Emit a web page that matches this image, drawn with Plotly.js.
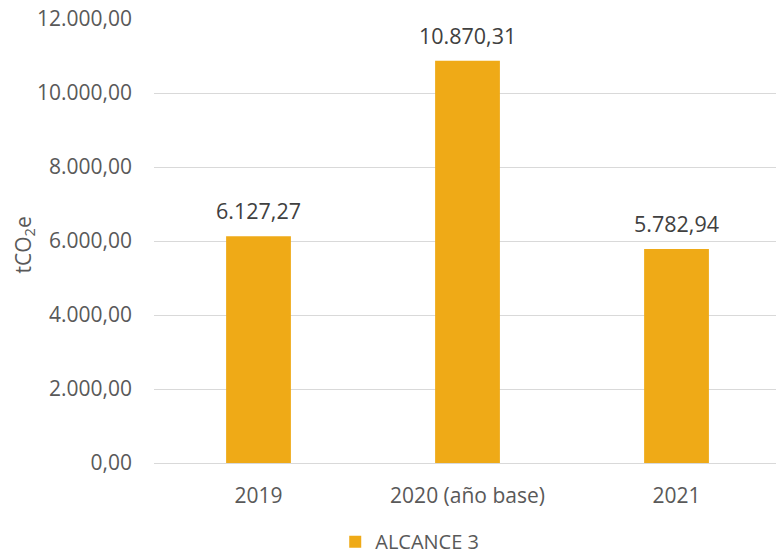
<!DOCTYPE html>
<html><head><meta charset="utf-8">
<script src="https://cdn.plot.ly/plotly-3.0.1.min.js"></script>
<style>html,body{margin:0;padding:0;background:#fff}</style>
</head><body>
<div id="chart" style="width:776px;height:555px"></div>
<script>
var categories = ["2019", "2020 (año base)", "2021"];
var values = [6127.27, 10870.31, 5782.94];
var seriesName = "ALCANCE 3";
var yTicks = [0, 2000, 4000, 6000, 8000, 10000, 12000];
var yTitle = "tCO<sub>2</sub>e";

var fontFam = "Open Sans, Liberation Sans, sans-serif";
var txtColor = "#595959";

var trace = {
  type: "bar",
  x: categories,
  y: values,
  name: seriesName,
  width: 0.31,
  marker: {color: "#EFAA17"},
  showlegend: true,
  hoverinfo: "none"
};

var fmt = function(v){
  var parts = v.toFixed(2).split(".");
  parts[0] = parts[0].replace(/\B(?=(\d{3})+(?!\d))/g, ".");
  return parts.join(",");
};
var annotations = categories.map(function(c, i){
  return {
    x: i, y: values[i], xref: "x", yref: "y",
    text: fmt(values[i]), showarrow: false,
    yanchor: "bottom", yshift: 9,
    font: {family: fontFam, size: 21.5, color: "#404040"}
  };
});
annotations.push({
  x: -0.209, y: 0.49, xref: "paper", yref: "paper",
  text: yTitle, textangle: -90, showarrow: false,
  xanchor: "center", yanchor: "middle",
  font: {family: fontFam, size: 21, color: txtColor}
});

var layout = {
  width: 776, height: 555,
  margin: {l: 154, r: 0, t: 19, b: 92},
  paper_bgcolor: "#fff", plot_bgcolor: "#fff",
  separators: ",.",
  font: {family: fontFam, size: 21, color: txtColor},
  xaxis: {
    type: "category",
    range: [-0.5, 2.476],
    showgrid: false, zeroline: false, showline: false,
    ticks: "", tickfont: {size: 21, color: txtColor},
    ticklabelstandoff: 18,
    automargin: false,
    fixedrange: true
  },
  yaxis: {
    range: [0, 12000],
    tickvals: yTicks,
    tickformat: ",.2f",
    showgrid: true, gridcolor: "#D9D9D9", gridwidth: 1,
    zeroline: true, zerolinecolor: "#D9D9D9", zerolinewidth: 1,
    showline: false, ticks: "", ticklen: 0,
    tickfont: {size: 21, color: txtColor},
    ticklabelstandoff: 21,
    automargin: false,
    fixedrange: true
  },
  showlegend: true,
  legend: {
    orientation: "h", xref: "container", yref: "container",
    x: 0.432, xanchor: "left", y: 0.024, yanchor: "middle",
    font: {size: 20, color: txtColor}, itemwidth: 30
  },
  annotations: annotations,
  bargap: 0.69
};

Plotly.newPlot("chart", [trace], layout, {displayModeBar: false, staticPlot: true});
</script>
</body></html>
